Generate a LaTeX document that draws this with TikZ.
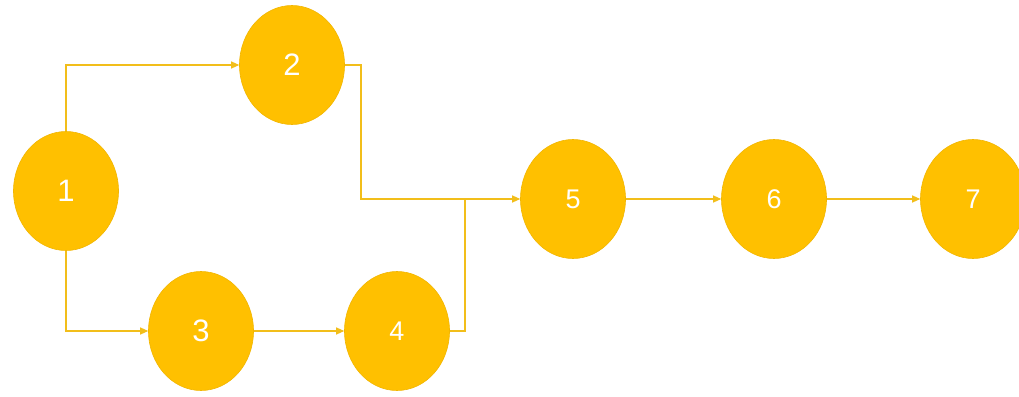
\documentclass[tikz,border=0pt]{standalone}
\usepackage{fontspec}
\setmainfont{Liberation Sans}
\usetikzlibrary{shapes.geometric,arrows.meta}
\definecolor{gold}{HTML}{FFC000}
\definecolor{goldline}{HTML}{F2BE1A}
\tikzset{
  ev/.style={ellipse, fill=gold, draw=gold!95!black, line width=0.6pt, minimum width=105pt, minimum height=119pt, inner sep=0pt, text=white},
  big/.style={font=\fontsize{31}{31}\selectfont},
  small/.style={font=\fontsize{27}{27}\selectfont},
  conn/.style={draw=goldline, line width=1.2pt},
  arr/.style={conn, -{Triangle[length=8pt,width=7pt]}}
}
\begin{document}
\begin{tikzpicture}[x=1pt,y=-1pt]
\clip (0,0) rectangle (1019,396);
\fill[white] (0,0) rectangle (1019,396);
\node[ev,big] (n1) at (66,191) {1};
\node[ev,big] (n2) at (292,65) {2};
\node[ev,big] (n3) at (201,331) {3};
\node[ev,small] (n4) at (397,331) {4};
\node[ev,small] (n5) at (573,199) {5};
\node[ev,small] (n6) at (774,199) {6};
\node[ev,small] (n7) at (973,199) {7};
\coordinate (j2) at (361,199);
\coordinate (m) at (465,199);
\draw[arr] (n1.north) |- (n2.west);
\draw[arr] (n1.south) |- (n3.west);
\draw[arr] (n3) -- (n4);
\draw[arr] (n2.east) -| (j2) -- (n5.west);
\draw[conn] (n4.east) -| (m);
\draw[arr] (n5) -- (n6);
\draw[arr] (n6) -- (n7);
\end{tikzpicture}
\end{document}
